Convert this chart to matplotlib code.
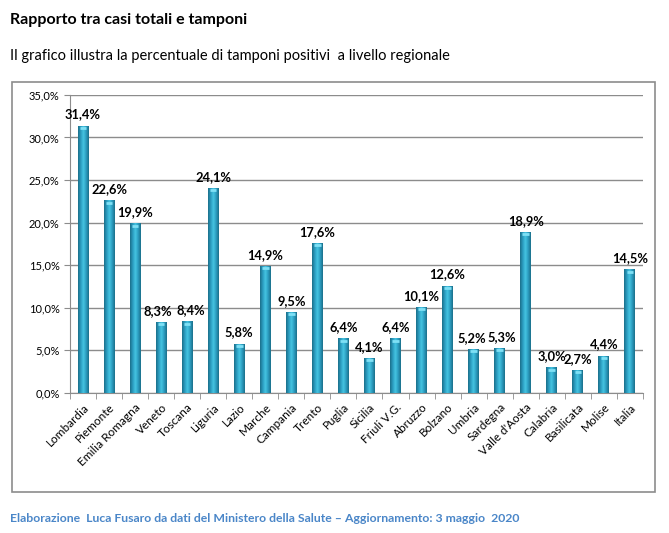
import numpy as np
import matplotlib.pyplot as plt
from matplotlib.patches import Rectangle
from matplotlib.colors import LinearSegmentedColormap

regioni = ["Lombardia", "Piemonte", "Emilia Romagna", "Veneto", "Toscana", "Liguria",
           "Lazio", "Marche", "Campania", "Trento", "Puglia", "Sicilia", "Friuli V.G.",
           "Abruzzo", "Bolzano", "Umbria", "Sardegna", "Valle d'Aosta", "Calabria",
           "Basilicata", "Molise", "Italia"]
percentuali = [31.4, 22.6, 19.9, 8.3, 8.4, 24.1, 5.8, 14.9, 9.5, 17.6, 6.4, 4.1, 6.4,
               10.1, 12.6, 5.2, 5.3, 18.9, 3.0, 2.7, 4.4, 14.5]
yticks = [0, 5, 10, 15, 20, 25, 30, 35]

plt.rcParams['font.family'] = ['Lato', 'DejaVu Sans']

fig = plt.figure(figsize=(6.69, 5.33), dpi=100)
ax = fig.add_axes([0.1046, 0.2627, 0.8564, 0.5593])

# cornice esterna
fig.patches.append(Rectangle((12 / 669, 1 - 492 / 533), 643 / 669, 410 / 533,
                             transform=fig.transFigure, fill=False,
                             edgecolor="#8c8c8c", linewidth=1.2))

x = np.arange(len(regioni))
larghezza = 0.42
barre = ax.bar(x, percentuali, width=larghezza, color="#2a9dc0", zorder=3)

cmap = LinearSegmentedColormap.from_list("cil", ["#1b6f8a", "#2b9cbf", "#45c4e2", "#2b9cbf", "#1b6f8a"])
grad = np.linspace(0, 1, 64).reshape(1, -1)
for b in barre:
    x0 = b.get_x()
    im = ax.imshow(grad, cmap=cmap, aspect="auto", zorder=4,
                   extent=[x0, x0 + b.get_width(), 0, b.get_height()])
    im.set_clip_path(b)
    # cappuccio superiore
    ax.plot([x0 + b.get_width() * 0.2, x0 + b.get_width() * 0.8], [b.get_height() - 0.25] * 2,
            color="#7fe0f5", linewidth=2, zorder=5, solid_capstyle="butt")

# piccoli spostamenti per etichette vicine
spost = {"Veneto": -0.12, "Toscana": 0.15, "Umbria": -0.08, "Sardegna": 0.1}
for xi, nome, v in zip(x, regioni, percentuali):
    ax.text(xi + spost.get(nome, 0), v + 0.6, f"{v:.1f}%".replace(".", ","),
            ha="center", va="bottom", fontsize=9.3, fontweight="bold", zorder=6)

ax.set_xlim(-0.5, len(regioni) - 0.5)
ax.set_ylim(0, 35)
ax.set_yticks(yticks)
ax.set_yticklabels([f"{t:.1f}%".replace(".", ",") for t in yticks], fontsize=8)
ax.yaxis.grid(True, color="#8c8c8c", linewidth=1, zorder=0)
ax.set_xticks(x)
ax.set_xticklabels(regioni, rotation=45, ha="right", rotation_mode="anchor", fontsize=8.5)
ax.set_xticks(np.arange(-0.5, len(regioni)), minor=True)
ax.tick_params(axis="x", which="major", length=0, pad=6)
ax.tick_params(axis="x", which="minor", length=4, color="#8c8c8c")
ax.tick_params(axis="y", length=4, color="#8c8c8c")
for s in ["top", "right"]:
    ax.spines[s].set_visible(False)
for s in ["left", "bottom"]:
    ax.spines[s].set_color("#8c8c8c")

fig.text(10 / 669, 1 - 20 / 533, "Rapporto tra casi totali e tamponi", fontsize=11.5,
         fontweight="bold", va="center")
fig.text(10 / 669, 1 - 56 / 533, "Il grafico illustra la percentuale di tamponi positivi  a livello regionale",
         fontsize=10.5, va="center")
fig.text(10 / 669, 1 - 518 / 533,
         "Elaborazione  Luca Fusaro da dati del Ministero della Salute \u2013 Aggiornamento: 3 maggio  2020",
         fontsize=8.8, color="#4a86c8", fontweight="bold", va="center")

fig.savefig("out.png", dpi=100)
